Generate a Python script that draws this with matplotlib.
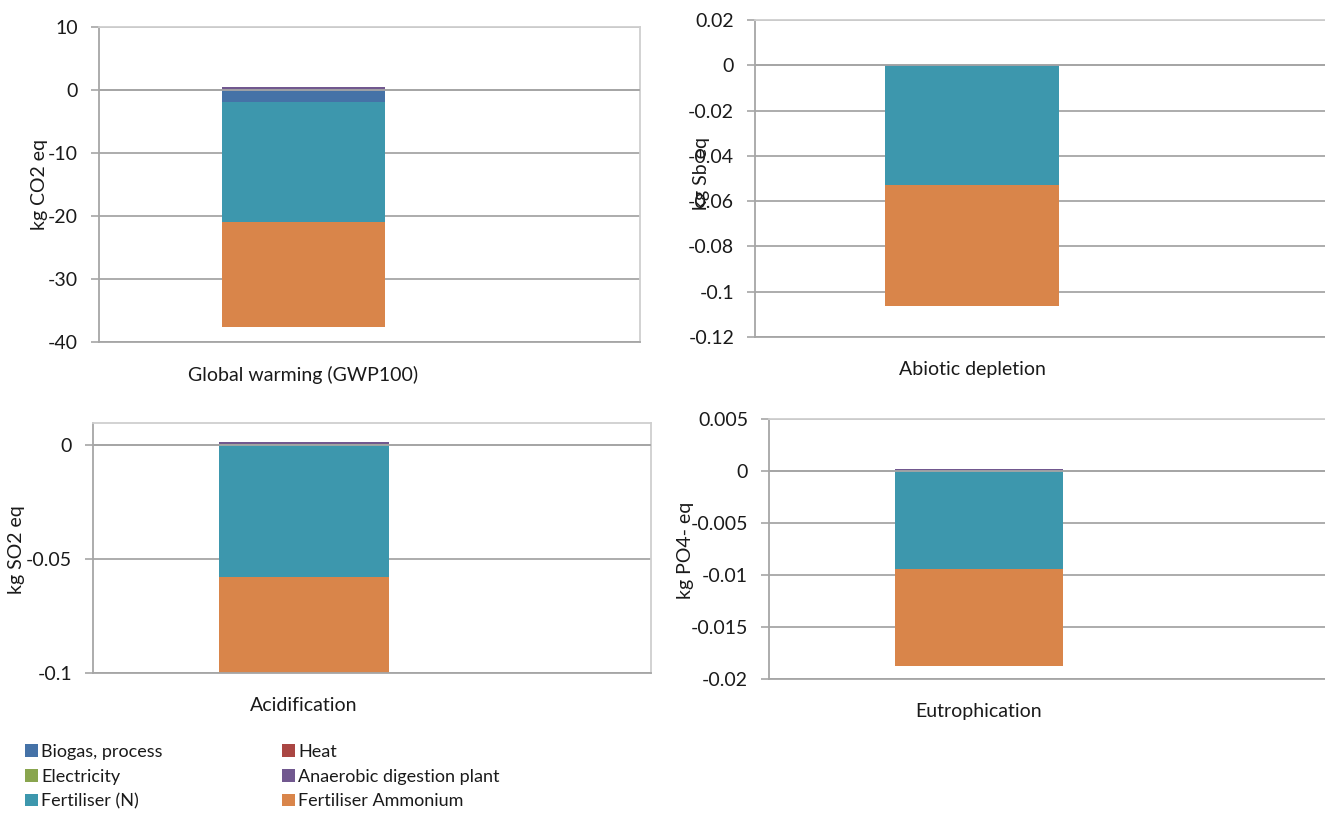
import matplotlib
matplotlib.use("Agg")
import matplotlib.pyplot as plt
from matplotlib.patches import Patch
from matplotlib.ticker import FuncFormatter

plt.rcParams["font.family"] = ["Lato", "DejaVu Sans"]
plt.rcParams["axes.unicode_minus"] = False

# contribution per process, one value per impact category
categories = ["Global warming (GWP100)", "Abiotic depletion", "Acidification", "Eutrophication"]
units = ["kg CO2 eq", "kg Sb eq", "kg SO2 eq", "kg PO4- eq"]

series_names = ["Biogas, process", "Heat", "Electricity",
                "Anaerobic digestion plant", "Fertiliser (N)", "Fertiliser Ammonium"]
series_colors = ["#4572A7", "#AA4643", "#89A54E", "#71588F", "#3D97AD", "#D9854A"]

biogas     = [-1.9,   -0.0002, -0.0002, -0.00003]
heat       = [0.05,   0.0,     0.0001,  0.00001]
electric   = [0.02,   0.0,     0.0001,  0.00001]
ad_plant   = [0.35,   0.0001,  0.0011,  0.0002]
fert_n     = [-19.0,  -0.0528, -0.0578, -0.0094]
fert_amm   = [-16.7,  -0.0535, -0.0433, -0.0093]
series = [biogas, heat, electric, ad_plant, fert_n, fert_amm]

# axes boxes in pixels: left, top, right, bottom
boxes = [(99, 27, 640, 342), (755, 20, 1330, 337),
         (93, 423, 651, 673), (769, 419, 1330, 679)]
bar_px = [(222, 385), (885, 1059), (219, 389), (895, 1063)]
ylims = [(-40, 10), (-0.12, 0.02), (-0.1, 0.0096), (-0.02, 0.005)]
yticks = [[-40, -30, -20, -10, 0, 10],
          [-0.12, -0.1, -0.08, -0.06, -0.04, -0.02, 0, 0.02],
          [-0.1, -0.05, 0],
          [-0.02, -0.015, -0.01, -0.005, 0, 0.005]]
ylabel_px = [(40, 184), (702, 173), (17, 550), (685, 550)]

W, H = 1325, 814
fig = plt.figure(figsize=(W / 100, H / 100), dpi=100)

grid_c = "#A6A6A6"
frame_c = "#CFCFCF"
text_c = "#1A1A1A"


def fmt(v, pos):
    s = f"{v:.3f}".rstrip("0").rstrip(".")
    return "0" if s in ("-0", "0") else s


for i, cat in enumerate(categories):
    l, t, r, b = boxes[i]
    ax = fig.add_axes([l / W, 1 - b / H, (r - l) / W, (b - t) / H])
    bl, br = bar_px[i]
    bw = br - bl
    ax.set_xlim(-0.5 - (bl - l) / bw, 0.5 + (r - br) / bw)
    ax.set_ylim(*ylims[i])

    pos_base, neg_base = 0.0, 0.0
    for vals, c in zip(series, series_colors):
        v = vals[i]
        if v >= 0:
            ax.bar(0, v, width=1, bottom=pos_base, color=c, zorder=2)
            pos_base += v
        else:
            ax.bar(0, v, width=1, bottom=neg_base, color=c, zorder=2)
            neg_base += v
    ax.axhline(0, color=grid_c, lw=1.3, zorder=3)

    ax.set_yticks(yticks[i])
    ax.yaxis.set_major_formatter(FuncFormatter(fmt))
    ax.yaxis.grid(True, color=grid_c, lw=1.3)
    ax.set_axisbelow(True)
    ax.tick_params(axis="y", length=6, width=1.2, color=grid_c, pad=9,
                   labelsize=14, labelcolor=text_c)
    ax.set_xticks([0])
    ax.set_xticklabels([cat])
    ax.tick_params(axis="x", length=0, pad=17, labelsize=14, labelcolor=text_c)

    for side in ["top", "right"]:
        ax.spines[side].set_color(frame_c)
        ax.spines[side].set_linewidth(1.3)
    for side in ["left", "bottom"]:
        ax.spines[side].set_color(grid_c)
        ax.spines[side].set_linewidth(1.3)

    lx, ly = ylabel_px[i]
    fig.text(lx / W, 1 - ly / H, units[i], rotation=90, ha="center", va="center",
             fontsize=14, color=text_c)

# legend in two columns below the panels
handles = [Patch(facecolor=c, edgecolor="none") for c in series_colors]
cols = [([0, 2, 4], 25), ([1, 3, 5], 282)]
for idx, x0 in cols:
    fig.legend([handles[k] for k in idx], [series_names[k] for k in idx],
               loc="upper left", bbox_to_anchor=(x0 / W, 1 - 744 / H),
               frameon=False, fontsize=13, handlelength=0.7, handleheight=0.7,
               handletextpad=0.2, labelspacing=0.48, borderpad=0, borderaxespad=0,
               labelcolor=text_c)

fig.savefig("out.png", dpi=100)
